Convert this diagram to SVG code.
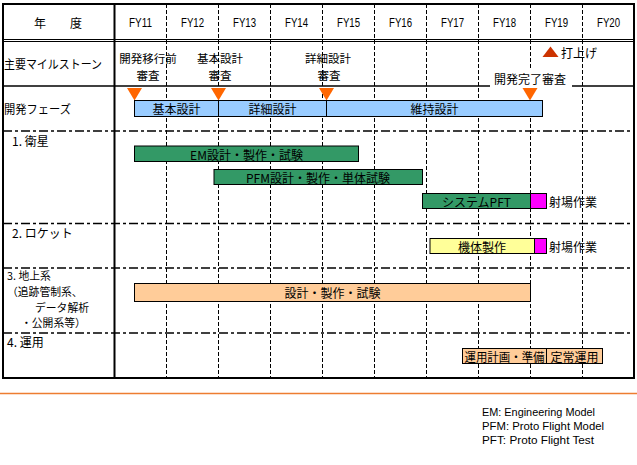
<svg xmlns="http://www.w3.org/2000/svg" width="637" height="465" viewBox="0 0 637 465">
<style>
text{font-family:"Noto Sans CJK JP","Noto Sans CJK SC",sans-serif;font-size:12px;fill:#000;dominant-baseline:central}
.c{text-anchor:middle}
.ms{font-size:11.5px}
.gs{font-size:10.8px}
.fy{font-family:"Liberation Sans",Arial,sans-serif;font-size:12px;text-anchor:middle}
.lg{font-family:"Liberation Sans",Arial,sans-serif;font-size:11px}
.solid{stroke:#000;fill:none}
.vd{stroke:#000;stroke-width:1;stroke-dasharray:4 2;fill:none}
.hd{stroke:#000;stroke-width:1.3;stroke-dasharray:9 3 3 3;fill:none}
.bar{stroke:#000;stroke-width:1}
.blue{fill:#99CCFF}.green{fill:#339966}.mag{fill:#FF00FF}.yel{fill:#FFFF99}.peach{fill:#FFCC99}
.tri{fill:#FF6600}
</style>
<rect width="637" height="465" fill="#fff"/>
<g id="grid">
<path class="vd" d="M166.5 4V378M218.5 4V378M270.5 4V378M322.5 4V378M374.5 4V378M426.5 4V378M478.5 4V378M530.5 4V378M582.5 4V378"/>
<path class="solid" stroke-width="1" d="M3 39.5H634M3 41.5H634"/>
<path class="solid" stroke-width="1.5" d="M3 86H634"/>
<path class="hd" d="M3 131H634M3 223.5H634M3 268H634M3 333H634"/>
<path class="solid" stroke-width="2" d="M114.5 4V378"/>
<rect x="3" y="4" width="631" height="374" class="solid" stroke-width="2"/>
<path d="M0 393.5H637" stroke="#ED7D31" stroke-width="1.5"/>
</g>
<g id="header">
<text x="40" y="22.5" class="c">年</text>
<text x="76" y="22.5" class="c">度</text>
<text x="140.5" y="22.5" class="fy" textLength="23" lengthAdjust="spacingAndGlyphs">FY11</text>
<text x="192.5" y="22.5" class="fy" textLength="23" lengthAdjust="spacingAndGlyphs">FY12</text>
<text x="244.5" y="22.5" class="fy" textLength="23" lengthAdjust="spacingAndGlyphs">FY13</text>
<text x="296.5" y="22.5" class="fy" textLength="23" lengthAdjust="spacingAndGlyphs">FY14</text>
<text x="348.5" y="22.5" class="fy" textLength="23" lengthAdjust="spacingAndGlyphs">FY15</text>
<text x="400.5" y="22.5" class="fy" textLength="23" lengthAdjust="spacingAndGlyphs">FY16</text>
<text x="452.5" y="22.5" class="fy" textLength="23" lengthAdjust="spacingAndGlyphs">FY17</text>
<text x="504.5" y="22.5" class="fy" textLength="23" lengthAdjust="spacingAndGlyphs">FY18</text>
<text x="556.5" y="22.5" class="fy" textLength="23" lengthAdjust="spacingAndGlyphs">FY19</text>
<text x="608.5" y="22.5" class="fy" textLength="23" lengthAdjust="spacingAndGlyphs">FY20</text>
</g>
<g id="row-labels">
<text x="4" y="63.5" textLength="98" lengthAdjust="spacingAndGlyphs">主要マイルストーン</text>
<text x="4" y="108.5" textLength="67" lengthAdjust="spacingAndGlyphs">開発フェーズ</text>
<text x="12" y="140">1. 衛星</text>
<text x="12" y="232">2. ロケット</text>
<text x="7" y="275" class="gs">3. 地上系</text>
<text x="7" y="290.8" class="gs">（追跡管制系、</text>
<text x="35" y="306.6" class="gs">データ解析</text>
<text x="21" y="322.4" class="gs">・公開系等）</text>
<text x="7" y="341">4. 運用</text>
</g>
<g id="milestones">
<text x="148" y="58" class="c ms">開発移行前</text>
<text x="148" y="75" class="c ms">審査</text>
<text x="220" y="58" class="c ms">基本設計</text>
<text x="220" y="75" class="c ms">審査</text>
<text x="328" y="58" class="c ms">詳細設計</text>
<text x="329" y="75" class="c ms">審査</text>
<rect x="490" y="69" width="82" height="18.5" fill="#fff"/>
<text x="530" y="78" class="c">開発完了審査</text>
<path class="tri" d="M127 88H142L134.5 100.5Z"/>
<path class="tri" d="M211 88H226L218.5 100.5Z"/>
<path class="tri" d="M319 88H334L326.5 100.5Z"/>
<path class="tri" d="M522.5 88H537.5L530 100.5Z"/>
<path d="M542.5 57L550.5 46.5L558.5 57Z" fill="#CC3300"/>
<text x="561" y="52">打上げ</text>
</g>
<g id="phase">
<rect x="134.5" y="100.5" width="408" height="16" class="bar blue"/>
<path class="solid" stroke-width="1" d="M218.5 100.5V116.5M326.5 100.5V116.5"/>
<text x="176.5" y="108.5" class="c">基本設計</text>
<text x="272.5" y="108.5" class="c">詳細設計</text>
<text x="434.5" y="108.5" class="c">維持設計</text>
</g>
<g id="satellite">
<rect x="134.5" y="146" width="224" height="15.5" class="bar green"/>
<text x="246.5" y="154" class="c">EM設計・製作・試験</text>
<rect x="214" y="169.5" width="208.5" height="15" class="bar green"/>
<text x="318" y="177" class="c">PFM設計・製作・単体試験</text>
<rect x="422.5" y="193.5" width="108" height="15" class="bar green"/>
<text x="476.5" y="201" class="c">システムPFT</text>
<rect x="530.5" y="193.5" width="16" height="15" class="bar mag"/>
<text x="549" y="201">射場作業</text>
</g>
<g id="rocket">
<rect x="430" y="238.5" width="104.5" height="15" class="bar yel"/>
<text x="482" y="246" class="c">機体製作</text>
<rect x="534.5" y="238.5" width="12" height="15" class="bar mag"/>
<text x="549" y="246">射場作業</text>
</g>
<g id="ground">
<rect x="134.5" y="283.5" width="396" height="18" class="bar peach"/>
<text x="332.5" y="292.5" class="c">設計・製作・試験</text>
</g>
<g id="operation">
<rect x="462.5" y="348.5" width="84" height="15" class="bar peach"/>
<text x="504.5" y="356" class="c" textLength="80" lengthAdjust="spacingAndGlyphs">運用計画・準備</text>
<rect x="546.5" y="348.5" width="56" height="15" class="bar peach"/>
<text x="574.5" y="356" class="c">定常運用</text>
</g>
<g id="legend">
<text x="482" y="411.5" class="lg" textLength="113" lengthAdjust="spacingAndGlyphs">EM: Engineering Model</text>
<text x="482" y="425.5" class="lg" textLength="122" lengthAdjust="spacingAndGlyphs">PFM: Proto Flight Model</text>
<text x="482" y="440" class="lg" textLength="112" lengthAdjust="spacingAndGlyphs">PFT: Proto Flight Test</text>
</g>
</svg>
